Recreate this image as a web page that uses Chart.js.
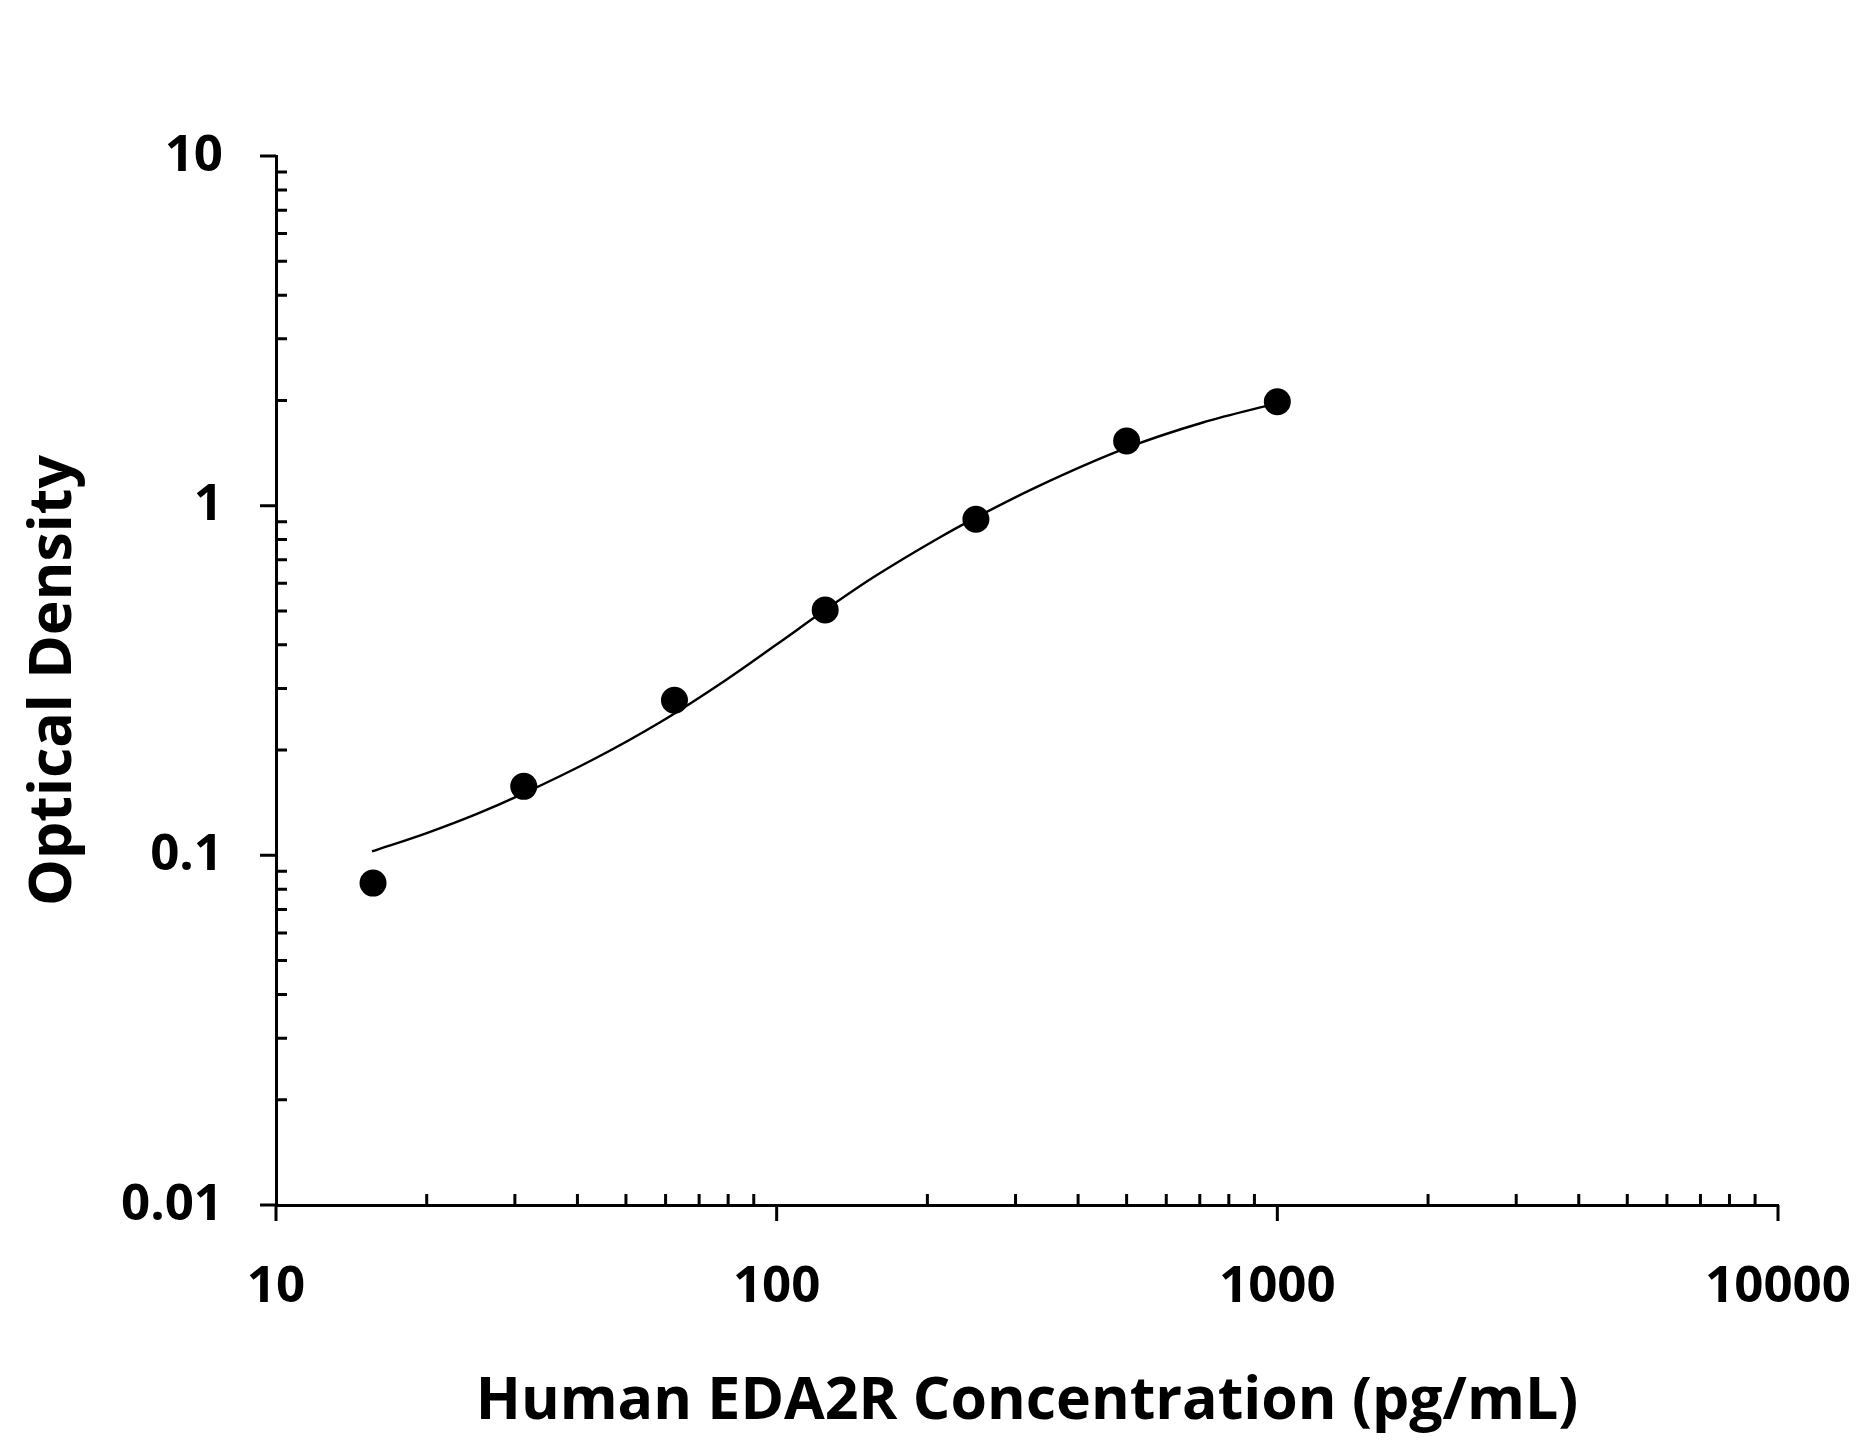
<!DOCTYPE html>
<html>
<head>
<meta charset="utf-8">
<title>Human EDA2R standard curve</title>
<script src="https://cdn.jsdelivr.net/npm/chart.js@4/dist/chart.umd.min.js"></script>
<style>
  html, body { margin: 0; padding: 0; background: #fff; }
  canvas { display: block; }
</style>
</head>
<body>
<canvas id="curveChart" width="1859" height="1445"></canvas>
<script>
// measured standards (pg/mL vs OD)
const concentrations = [15.625, 31.25, 62.5, 125, 250, 500, 1000];
const densities = [0.0833, 0.1575, 0.2776, 0.503, 0.914, 1.531, 1.983];

// fitted curve
const curveX = [15.55, 20.0, 25.2, 31.1, 43.0, 58.5, 79.6, 100.1, 125.5, 156, 212, 250, 331, 500, 710, 1000];
const curveY = [0.1026, 0.1158, 0.1314, 0.1499, 0.1879, 0.2402, 0.319, 0.4015, 0.5052, 0.6238, 0.8124, 0.9243, 1.1315, 1.4622, 1.7291, 1.9634];

// tick positions and labels
const xTickValues = [10, 20, 30, 40, 50, 60, 70, 80, 90,
                     100, 200, 300, 400, 500, 600, 700, 800, 900,
                     1000, 2000, 3000, 4000, 5000, 6000, 7000, 8000, 9000, 10000];
const xMajorValues = [10, 100, 1000, 10000];
const xMajorLabels = ['10', '100', '1000', '10000'];

const yTickValues = [0.01, 0.02, 0.03, 0.04, 0.05, 0.06, 0.07, 0.08, 0.09,
                     0.1, 0.2, 0.3, 0.4, 0.5, 0.6, 0.7, 0.8, 0.9,
                     1, 2, 3, 4, 5, 6, 7, 8, 9, 10];
const yMajorValues = [0.01, 0.1, 1, 10];
const yMajorLabels = ['0.01', '0.1', '1', '10'];

const xTitle = 'Human EDA2R Concentration (pg/mL)';
const yTitle = 'Optical Density';

function isMajor(list, v) {
    return list.some(m => Math.abs(m - v) / m < 1e-6);
}

function labelFor(list, labels, v) {
    const i = list.findIndex(m => Math.abs(m - v) / m < 1e-6);
    return i >= 0 ? labels[i] : '';
}

// tick marks: majors point outwards, minors point into the plot
const logTicks = {
    id: 'logTicks',
    afterDraw(chart) {
        const c = chart.ctx;
        const xs = chart.scales.x;
        const ys = chart.scales.y;
        const area = chart.chartArea;
        c.save();
        c.strokeStyle = '#000';
        c.lineWidth = 3;
        c.lineCap = 'butt';
        c.beginPath();
        xs.ticks.forEach(t => {
            const px = xs.getPixelForValue(t.value);
            if (isMajor(xMajorValues, t.value)) {
                c.moveTo(px, area.bottom);
                c.lineTo(px, area.bottom + 16);
            } else {
                c.moveTo(px, area.bottom);
                c.lineTo(px, area.bottom - 11);
            }
        });
        ys.ticks.forEach(t => {
            const py = ys.getPixelForValue(t.value);
            if (isMajor(yMajorValues, t.value)) {
                c.moveTo(area.left, py);
                c.lineTo(area.left - 16, py);
            } else {
                c.moveTo(area.left, py);
                c.lineTo(area.left + 11, py);
            }
        });
        c.stroke();
        c.restore();
    }
};

const tickFont = { family: '"Open Sans", sans-serif', size: 51, weight: 'bold' };
const titleFont = { family: '"Open Sans", sans-serif', size: 59, weight: 'bold' };

new Chart(document.getElementById('curveChart').getContext('2d'), {
    type: 'scatter',
    data: {
        datasets: [
            {
                label: 'Fit',
                type: 'line',
                data: curveX.map((x, i) => ({ x: x, y: curveY[i] })),
                borderColor: '#000',
                borderWidth: 2.4,
                pointRadius: 0,
                fill: false,
                cubicInterpolationMode: 'monotone'
            },
            {
                label: 'Standards',
                data: concentrations.map((x, i) => ({ x: x, y: densities[i] })),
                backgroundColor: '#000',
                borderColor: '#000',
                borderWidth: 0,
                pointRadius: 13.5,
                pointHoverRadius: 13.5
            }
        ]
    },
    options: {
        responsive: false,
        animation: false,
        devicePixelRatio: 1,
        layout: {
            padding: { top: 156, right: 81, bottom: 0, left: 0 }
        },
        plugins: {
            legend: { display: false },
            tooltip: { enabled: false }
        },
        scales: {
            x: {
                type: 'logarithmic',
                min: 10,
                max: 10000,
                afterBuildTicks: scale => { scale.ticks = xTickValues.map(v => ({ value: v })); },
                afterFit: scale => {
                    scale.height = 240;
                    scale.paddingLeft = 0;
                    scale.paddingRight = 0;
                },
                grid: { display: false, drawTicks: false },
                border: { display: true, color: '#000', width: 3 },
                ticks: {
                    autoSkip: false,
                    maxRotation: 0,
                    padding: 52,
                    color: '#000',
                    font: tickFont,
                    callback: v => labelFor(xMajorValues, xMajorLabels, v)
                },
                title: {
                    display: true,
                    text: xTitle,
                    color: '#000',
                    font: titleFont,
                    padding: { top: 0, bottom: 7 }
                }
            },
            y: {
                type: 'logarithmic',
                min: 0.01,
                max: 10,
                afterBuildTicks: scale => { scale.ticks = yTickValues.map(v => ({ value: v })); },
                afterFit: scale => {
                    scale.width = 276;
                    scale.paddingTop = 0;
                    scale.paddingBottom = 0;
                },
                grid: { display: false, drawTicks: false },
                border: { display: true, color: '#000', width: 3 },
                ticks: {
                    autoSkip: false,
                    padding: 53,
                    color: '#000',
                    font: tickFont,
                    callback: v => labelFor(yMajorValues, yMajorLabels, v)
                },
                title: {
                    display: true,
                    text: yTitle,
                    color: '#000',
                    font: titleFont,
                    padding: { top: 19, bottom: 0 }
                }
            }
        }
    },
    plugins: [logTicks]
});
</script>
</body>
</html>
